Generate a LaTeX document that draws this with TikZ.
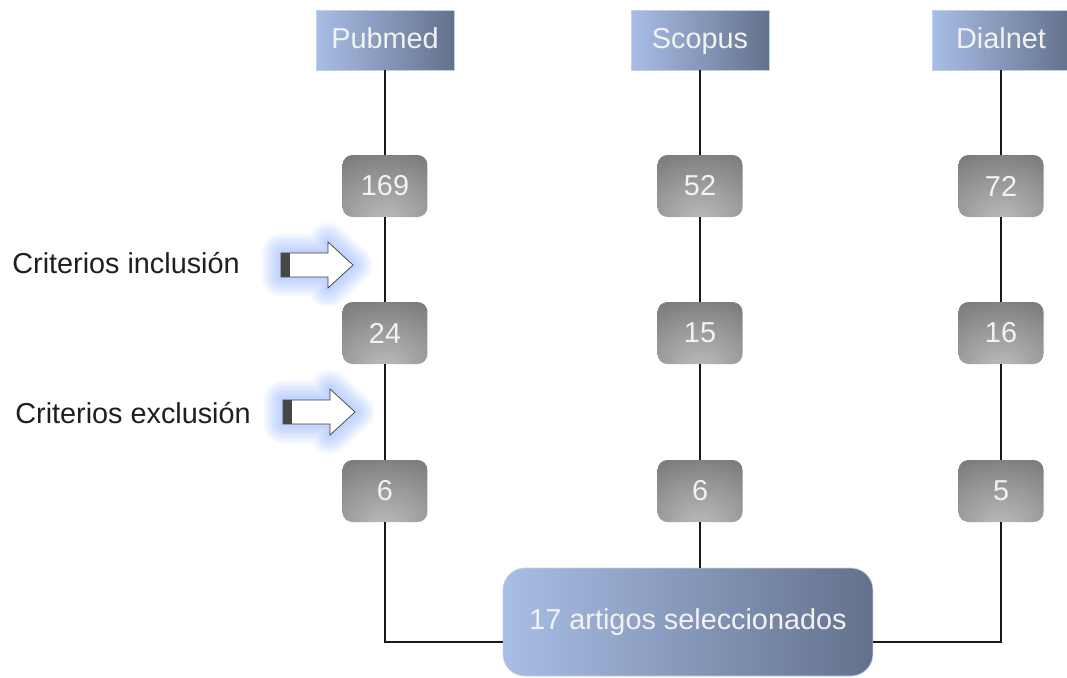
\documentclass[tikz,border=0pt]{standalone}
\usepackage{fontspec}
\setmainfont{Liberation Sans}
\usetikzlibrary{calc}

\definecolor{hdrleft}{RGB}{168,190,230}
\definecolor{hdrright}{RGB}{100,113,140}
\definecolor{hdrline}{RGB}{192,208,232}
\definecolor{glowblue}{RGB}{100,145,250}
\definecolor{boxtext}{RGB}{242,242,242}

\pgfdeclareradialshading{numshade}{\pgfpoint{0bp}{-30bp}}{color(0bp)=(black!26); color(25bp)=(black!40); color(55bp)=(black!58); color(85bp)=(black!66)}

\tikzset{
  hdr/.style={draw=hdrline, left color=hdrleft, right color=hdrright, text=boxtext,
    minimum width=2.76cm, minimum height=1.2cm, text height=13pt, text depth=3.5pt,
    font=\fontsize{16.4}{19}\selectfont},
  numbox/.style={rounded corners=0.2cm, shading=numshade, text=boxtext,
    minimum width=1.7cm, minimum height=1.24cm, font=\fontsize{16.4}{19}\selectfont},
  selbox/.style={draw=hdrline, rounded corners=0.44cm, left color=hdrleft, right color=hdrright,
    text=boxtext, minimum width=7.4cm, minimum height=2.16cm, font=\fontsize{16.4}{19}\selectfont},
  crit/.style={anchor=base west, inner sep=0pt, text=black!88, font=\fontsize{16.4}{19}\selectfont},
  link/.style={draw=black!90, line width=0.9pt},
  critarrow/.pic={
    \foreach \w in {22,19,...,1}
      \draw[glowblue, line width=\w pt, opacity=0.065, line join=round]
        (0,-12) -- (47,-12) -- (47,-23) -- (72,0) -- (47,23) -- (47,12) -- (0,12) -- cycle;
    \filldraw[fill=white, draw=black!75]
      (0,-12) -- (47,-12) -- (47,-23) -- (72,0) -- (47,23) -- (47,12) -- (0,12) -- cycle;
    \fill[black!72] (0,-12) rectangle (9,12);
  }
}

\begin{document}
\begin{tikzpicture}[x=0.02cm, y=-0.02cm]
\useasboundingbox (0,0) rectangle (1067,677);

% fuentes
\node[hdr] (pub) at (385,40) {Pubmed};
\node[hdr] (sco) at (700,40) {Scopus};
\node[hdr] (dia) at (1001,40) {Dialnet};

% resultados
\node[numbox] (p169) at (385,186) {169};
\node[numbox] (p24) at (385,333) {24};
\node[numbox] (p6) at (385,491) {6};
\node[numbox] (s52) at (700,186) {52};
\node[numbox] (s15) at (700,333) {15};
\node[numbox] (s6) at (700,491) {6};
\node[numbox] (d72) at (1001,186) {72};
\node[numbox] (d16) at (1001,333) {16};
\node[numbox] (d5) at (1001,491) {5};

\node[selbox] (sel) at (688,622) {17 artigos seleccionados};

% criterios
\node[crit] (inc) at (12,273) {Criterios inclusión};
\node[crit] (exc) at (15,423) {Criterios exclusión};
\pic at (281,265) {critarrow};
\pic at (283,412) {critarrow};

% conectores
\draw[link] (pub) -- (p169) -- (p24) -- (p6);
\draw[link] (sco) -- (s52) -- (s15) -- (s6) -- (s6 |- sel.north);
\draw[link] (dia) -- (d72) -- (d16) -- (d5);
\draw[link] (p6) |- ($(sel.west)+(0,20)$);
\draw[link] (d5) |- ($(sel.east)+(0,20)$);
\end{tikzpicture}
\end{document}
